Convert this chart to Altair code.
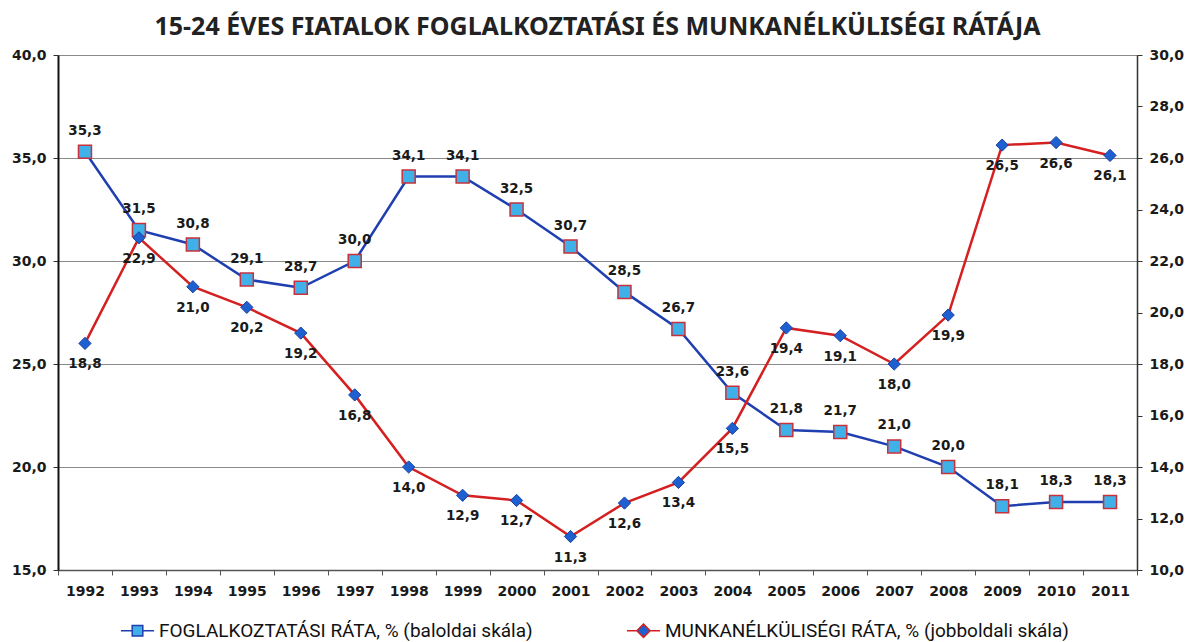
import altair as alt
import pandas as pd

years = [str(y) for y in range(1992, 2012)]
employment = [35.3, 31.5, 30.8, 29.1, 28.7, 30.0, 34.1, 34.1, 32.5, 30.7,
              28.5, 26.7, 23.6, 21.8, 21.7, 21.0, 20.0, 18.1, 18.3, 18.3]
unemployment = [18.8, 22.9, 21.0, 20.2, 19.2, 16.8, 14.0, 12.9, 12.7, 11.3,
                12.6, 13.4, 15.5, 19.4, 19.1, 18.0, 19.9, 26.5, 26.6, 26.1]
series_names = ["FOGLALKOZTATÁSI RÁTA, % (baloldai skála)",
                "MUNKANÉLKÜLISÉGI RÁTA, % (jobboldali skála)"]
title_text = "15-24 ÉVES FIATALOK FOGLALKOZTATÁSI  ÉS MUNKANÉLKÜLISÉGI RÁTÁJA"

df = pd.DataFrame({"year": years, "emp": employment, "unemp": unemployment})
legend_df = pd.DataFrame({"series": series_names})

BLUE_LINE = "#1f3fb0"
RED_LINE = "#d42020"
SQ_FILL = "#3fb0e8"
SQ_STROKE = "#c8303c"
DIA_FILL = "#1f60d0"
LABEL_FONT = "DejaVu Sans"

comma = "replace(format(datum.{f}, '.1f'), '.', ',')"

x_enc = alt.X("year:O",
              scale=alt.Scale(type="band", paddingInner=0, paddingOuter=0),
              axis=alt.Axis(title=None, labelAngle=0, tickBand="extent",
                            labelFont=LABEL_FONT, labelFontSize=14, labelFontWeight="bold",
                            labelColor="#1a1a1a", labelPadding=9, tickSize=5,
                            tickColor="#555", domainColor="#555", domainWidth=1.5,
                            grid=False))

y_left = alt.Y("emp:Q",
               scale=alt.Scale(domain=[15, 40], nice=False, zero=False),
               axis=alt.Axis(title=None, orient="left", values=[15, 20, 25, 30, 35, 40],
                             labelExpr="replace(format(datum.value, '.1f'), '.', ',')",
                             labelFont=LABEL_FONT, labelFontSize=14, labelFontWeight="bold",
                             labelColor="#1a1a1a", labelPadding=7, tickSize=5,
                             tickColor="#333", domainColor="#111", domainWidth=2,
                             grid=True, gridColor="#8a8a8a", gridWidth=1))

y_right = alt.Y("unemp:Q",
                scale=alt.Scale(domain=[10, 30], nice=False, zero=False),
                axis=alt.Axis(title=None, orient="right", values=list(range(10, 31, 2)),
                              labelExpr="replace(format(datum.value, '.1f'), '.', ',')",
                              labelFont=LABEL_FONT, labelFontSize=14, labelFontWeight="bold",
                              labelColor="#1a1a1a", labelPadding=7, tickSize=5,
                              tickColor="#333", domainColor="#333", domainWidth=1.5,
                              grid=False))

base = alt.Chart(df)

emp_line = base.mark_line(color=BLUE_LINE, strokeWidth=2.5).encode(x=x_enc, y=y_left)
emp_pts = base.mark_point(shape="square", filled=True, fill=SQ_FILL, stroke=SQ_STROKE,
                          strokeWidth=1.5, size=169, opacity=1).encode(x=x_enc, y=y_left)
emp_txt = base.transform_calculate(lab=comma.format(f="emp")).mark_text(
    font=LABEL_FONT, fontSize=13.5, fontWeight="bold", color="#1a1a1a", dy=-21
).encode(x=x_enc, y=y_left, text="lab:N")
left = alt.layer(emp_line, emp_pts, emp_txt)

un_line = base.mark_line(color=RED_LINE, strokeWidth=2.5).encode(x=x_enc, y=y_right)
un_pts = base.mark_point(shape="diamond", filled=True, fill=DIA_FILL, stroke="#1a40a0",
                         strokeWidth=1, size=150, opacity=1).encode(x=x_enc, y=y_right)
un_txt = base.transform_calculate(lab=comma.format(f="unemp")).mark_text(
    font=LABEL_FONT, fontSize=13.5, fontWeight="bold", color="#1a1a1a", dy=21
).encode(x=x_enc, y=y_right, text="lab:N")

sq_path = "M-1,0H-0.32M0.32,0H1M-0.32,-0.32H0.32V0.32H-0.32Z"
dia_path = "M-1,0H-0.4M0.4,0H1M0,-0.4L0.4,0L0,0.4L-0.4,0Z"

legend_layer = alt.Chart(legend_df).transform_filter("false").mark_point(
    filled=True, strokeWidth=1.5, opacity=1
).encode(
    fill=alt.Fill("series:N", scale=alt.Scale(domain=series_names, range=[SQ_FILL, DIA_FILL]),
                  legend=alt.Legend(title=None, orient="none", legendX=62, legendY=558,
                                    direction="horizontal", symbolSize=1100,
                                    symbolStrokeWidth=1.5, symbolOpacity=1,
                                    labelFont="Roboto",
                                    labelFontSize=19, labelColor="#111", labelLimit=800,
                                    labelOffset=4, columnPadding=90, padding=0)),
    stroke=alt.Stroke("series:N", scale=alt.Scale(domain=series_names, range=[BLUE_LINE, RED_LINE])),
    shape=alt.Shape("series:N", scale=alt.Scale(domain=series_names, range=[sq_path, dia_path])),
)

right = alt.layer(un_line, un_pts, un_txt, legend_layer)

chart = alt.layer(left, right).resolve_scale(y="independent").properties(
    width=1079, height=515,
    title=alt.TitleParams(title_text, font="Noto Sans", fontSize=25, fontWeight="bold",
                          color="#222", anchor="middle", offset=8),
    autosize=alt.AutoSizeParams(type="none"),
    padding={"left": 50, "top": 47, "right": 56, "bottom": 80},
).configure_view(stroke=None).configure(background="white")

chart.save("out.html", embed_options={"renderer": "svg", "actions": False})
